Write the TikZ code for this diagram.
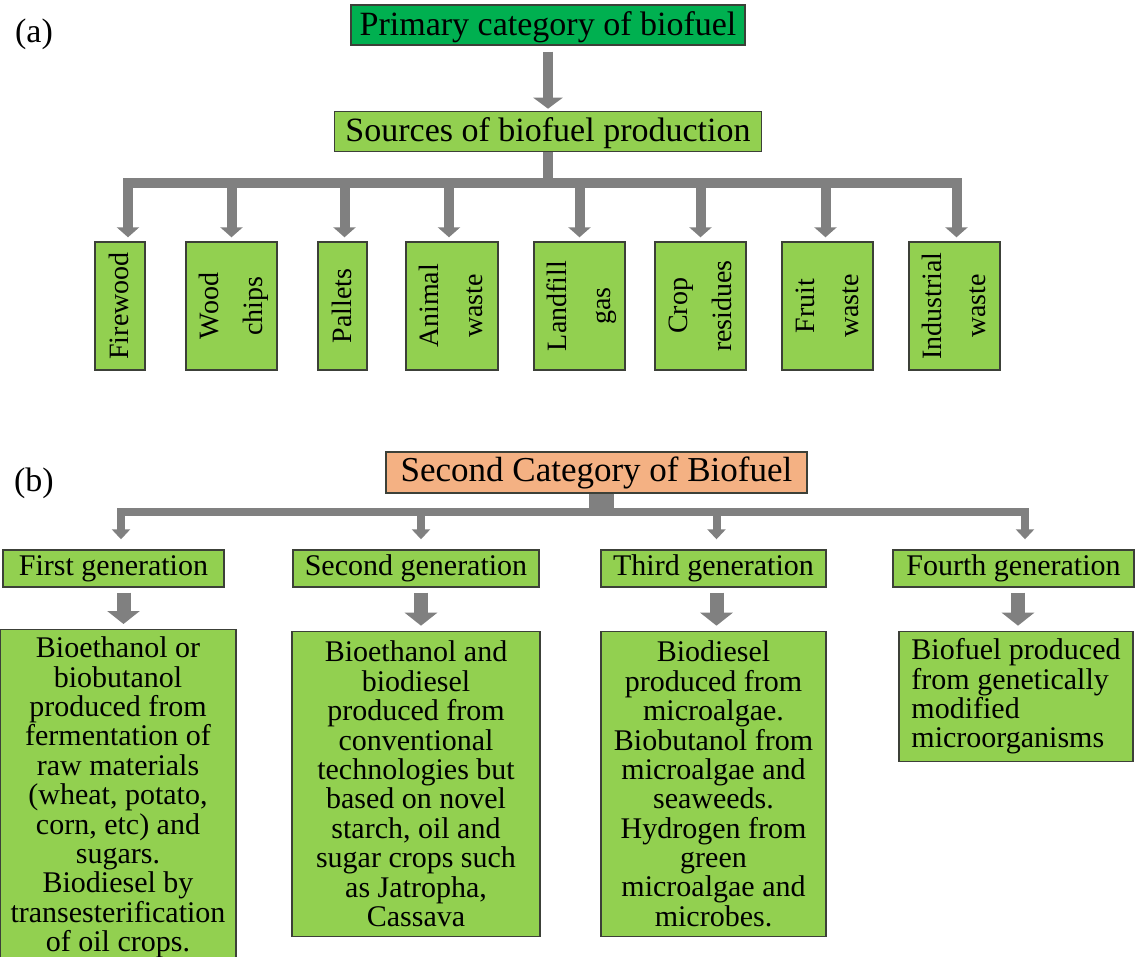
\documentclass[tikz,border=0pt]{standalone}
\usepackage{fontspec}
\setmainfont{Liberation Serif}
\usetikzlibrary{arrows.meta,positioning}

\definecolor{darkleaf}{RGB}{0,176,80}
\definecolor{leaf}{RGB}{146,208,80}
\definecolor{peach}{RGB}{244,177,131}
\definecolor{pipegray}{RGB}{128,128,128}
\definecolor{rim}{RGB}{60,64,56}

\newcommand{\sideways}[1]{\rotatebox{90}{\begin{tabular}{@{}c@{}}#1\end{tabular}}}

\begin{document}
\begin{tikzpicture}[x=0.5pt, y=-0.5pt,
  box/.style={rectangle, draw=rim, line width=0.7pt, fill=leaf, inner sep=0pt},
  head/.style={box, font=\fontsize{17}{20}\selectfont, minimum height=20pt, text height=13.6pt, text depth=3.4pt},
  source/.style={box, font=\fontsize{14}{22}\selectfont, minimum height=64pt},
  gen/.style={box, font=\fontsize{15}{18}\selectfont, minimum height=18.5pt},
  info/.style={box, font=\fontsize{15}{14.7}\selectfont, align=center, inner xsep=0pt, inner ysep=3.6pt},
  tag/.style={font=\fontsize{17}{20}\selectfont, inner sep=0pt},
  pipe/.style={draw=pipegray, line width=5pt},
  bigarrow/.style={pipe, -{Triangle[width=14.5pt,length=5.5pt]}, shorten <=3pt, shorten >=1pt},
  branch/.style={pipe, -{Triangle[width=11pt,length=5pt]}, shorten >=2pt},
  twig/.style={draw=pipegray, line width=4pt, -{Triangle[width=9pt,length=5pt]}, shorten >=5pt},
  fatarrow/.style={draw=pipegray, line width=7pt, -{Triangle[width=16pt,length=6.5pt]}, shorten <=2.5pt, shorten >=2.5pt}]
  \useasboundingbox (0,0) rectangle (1136,957);

  % (a) primary category
  \node[tag] (taga) at (34,34) {(a)};
  \node[head, fill=darkleaf, minimum width=197pt] (prim) at (548,25) {Primary category of biofuel};
  \node[head, minimum width=213.5pt, below=32.5pt of prim] (src) {Sources of biofuel production};
  \draw[bigarrow] (prim) -- (src);

  \node[source, minimum width=25pt] (fw) at (120,306) {\sideways{Firewood}};
  \node[source, minimum width=45.5pt] (wc) at (231.5,306) {\sideways{Wood\\chips}};
  \node[source, minimum width=24.5pt] (pal) at (342.5,306) {\sideways{Pallets}};
  \node[source, minimum width=46pt] (anim) at (452,306) {\sideways{Animal\\waste}};
  \node[source, minimum width=45.5pt] (land) at (579.5,306) {\sideways{Landfill\\gas}};
  \node[source, minimum width=45.5pt] (crop) at (700.5,306) {\sideways{Crop\\residues}};
  \node[source, minimum width=45.5pt] (fruit) at (827.5,306) {\sideways{Fruit\\waste}};
  \node[source, minimum width=45.5pt] (ind) at (954.5,306) {\sideways{Industrial\\waste}};

  \coordinate (hubA) at (548,183);
  \draw[pipe] (src.south) -- (src.south |- hubA);
  \foreach \n/\s in {fw/4pt, wc/0pt, pal/1pt, anim/-1.5pt, land/0pt, crop/0pt, fruit/-1pt, ind/1pt}
    \draw[branch] (hubA) -| ([xshift=\s]\n.north);

  % (b) second category
  \node[tag] (tagb) at (34,483) {(b)};
  \node[box, fill=peach, font=\fontsize{17.5}{20}\selectfont, text height=13.1pt, text depth=3.85pt, minimum width=210.5pt, minimum height=20.5pt] (cat) at (596.5,472.5) {Second Category of Biofuel};
  \coordinate (hubB) at (601,511.5);
  \draw[draw=pipegray, line width=12.5pt] ([xshift=2.25pt]cat.south) -- (hubB);

  \node[gen, minimum width=110.5pt] (g1) at (113.5,568.5) {First generation};
  \node[gen, minimum width=123pt] (g2) at (416,568.5) {Second generation};
  \node[gen, minimum width=112.5pt] (g3) at (713.5,568.5) {Third generation};
  \node[gen, minimum width=120.5pt] (g4) at (1013.5,568.5) {Fourth generation};
  \foreach \n/\s in {g1/3.75pt, g2/2.5pt, g3/1.5pt, g4/5.75pt}
    \draw[twig] (hubB) -| ([xshift=\s]\n.north);

  \node[info, minimum width=118pt, anchor=north] (d1) at (118,629) {Bioethanol or\\biobutanol\\produced from\\fermentation of\\raw materials\\(wheat, potato,\\corn, etc) and\\sugars.\\Biodiesel by\\transesterification\\of oil crops.};
  \node[info, minimum width=124pt, minimum height=152.5pt, below=21.5pt of g2] (d2) {Bioethanol and\\biodiesel\\produced from\\conventional\\technologies but\\based on novel\\starch, oil and\\sugar crops such\\as Jatropha,\\Cassava};
  \node[info, minimum width=112.5pt, minimum height=152.5pt, below=21.5pt of g3] (d3) {Biodiesel\\produced from\\microalgae.\\Biobutanol from\\microalgae and\\seaweeds.\\Hydrogen from\\green\\microalgae and\\microbes.};
  \node[info, align=left, minimum width=117pt, minimum height=63.5pt, below=21.5pt of g4, xshift=1.25pt] (d4) {Biofuel produced\\from genetically\\modified\\microorganisms};

  \foreach \g/\d/\s in {g1/d1/5pt, g2/d2/2.5pt, g3/d3/1.5pt, g4/d4/2.25pt}
    \draw[fatarrow] ([xshift=\s]\g.south) -- ([xshift=\s]\g.south |- \d.north);
\end{tikzpicture}
\end{document}
